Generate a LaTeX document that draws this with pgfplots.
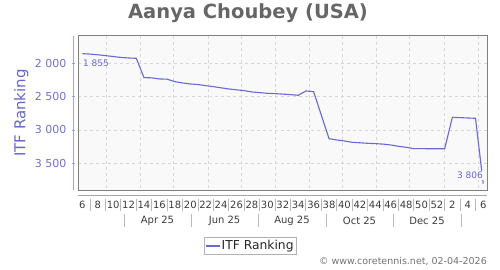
\documentclass[border=0pt]{standalone}
\usepackage{fontspec}
\setmainfont{DejaVu Sans}
\usepackage{pgfplots}
\pgfplotsset{compat=1.18}
\definecolor{linecol}{RGB}{104,104,214}
\definecolor{labcol}{RGB}{102,102,204}
\definecolor{tickcol}{RGB}{112,112,210}
\definecolor{titlecol}{RGB}{102,102,102}
\definecolor{gridcol}{RGB}{215,215,215}
\definecolor{framecol}{RGB}{128,128,128}
\definecolor{bgcol}{RGB}{249,249,249}
\definecolor{txtcol}{RGB}{60,60,60}
\definecolor{sepcol}{RGB}{185,185,185}

\pgfplotstableread{
i v
0 1855
1 1862
2 1872
3 1885
4 1898
5 1912
6 1920
7 1925
8 2215
9 2218
10 2235
11 2238
12 2275
13 2295
14 2310
15 2318
16 2335
17 2350
18 2368
19 2385
20 2398
21 2410
22 2430
23 2440
24 2450
25 2455
26 2462
27 2470
28 2480
29 2415
30 2425
32 3130
33 3150
34 3165
35 3185
36 3192
37 3200
38 3205
39 3212
40 3225
41 3245
42 3260
43 3280
44 3280
45 3282
46 3282
47 3282
48 2810
49 2815
50 2820
51 2825
52 3806
}\rankdata

\begin{document}
\begin{tikzpicture}
\useasboundingbox (0,0) rectangle (500bp,270bp);
\begin{axis}[
  at={(78bp,79.7bp)}, anchor=south west,
  scale only axis, width=409bp, height=154.6bp,
  xmin=-0.56, xmax=52.49, ymin=1586, ymax=3905, y dir=reverse,
  axis background/.style={fill=bgcol},
  axis line style={framecol, line width=0.8bp},
  xtick={0,2,...,52},
  xticklabels={6,8,10,12,14,16,18,20,22,24,26,28,30,32,34,36,38,40,42,44,46,48,50,52,2,4,6},
  xtick style={draw=none},
  xticklabel style={font=\fontsize{10bp}{12bp}\selectfont, color=txtcol, anchor=center, yshift=-14.7bp},
  extra x ticks={3.16,7.57,11.85,16.34,20.67,24.99,29.44,33.76,38.08,42.40,46.94,51.35},
  extra x tick labels={},
  extra x tick style={grid=major, tick style={draw=none}},
  ymajorgrids,
  grid style={gridcol, dashed, line width=0.6bp},
  ytick={2000,2500,3000,3500},
  yticklabels={2 000,2 500,3 000,3 500},
  ytick style={draw=none},
  yticklabel style={font=\fontsize{11bp}{13bp}\selectfont, color=tickcol, anchor=east, xshift=-8bp},
  ylabel={ITF Ranking},
  ylabel style={font=\fontsize{15bp}{18bp}\selectfont, color=labcol, at={(axis description cs:-0.139,0.5)}, anchor=center},
  legend style={at={(axis description cs:0.4205,-0.360)}, anchor=center, draw=gray!60, fill=white,
    font=\fontsize{12.3bp}{14bp}\selectfont, inner xsep=1bp, inner ysep=1.5bp,
    nodes={inner sep=1.5bp, text=black!85}},
  legend image code/.code={\draw[linecol, line width=1.3bp] (0bp,0bp) -- (14bp,0bp);},
]
\addplot[linecol, line width=1.1bp] table[x=i, y=v] {\rankdata};
\addlegendentry{ITF Ranking}
\node[anchor=west, color=linecol, font=\fontsize{9bp}{11bp}\selectfont, inner sep=0.5bp] at (axis cs:0,1855) [yshift=-10bp] {1 855};
\node[anchor=east, color=linecol, font=\fontsize{9bp}{11bp}\selectfont, fill=bgcol, inner sep=1bp] at (axis cs:52.1,3806) [yshift=8bp] {3 806};
\end{axis}
% y axis line and its small ticks
\draw[labcol!60, line width=0.8bp] (73.3bp,79.7bp) -- (73.3bp,234.3bp);
\foreach \ty in {206.7,173.3,140,106.7} {
  \draw[labcol!60, line width=0.8bp] (71.5bp,{\ty*1bp}) -- (75bp,{\ty*1bp});
}
% tick area line
\draw[gray!70, line width=0.7bp] (78bp,75bp) -- (487bp,75bp);
% week separators
\foreach \k in {1,3,...,51} {
  \draw[sepcol, line width=0.8bp] ({(82.3+7.71*\k)*1bp},71bp) -- ({(82.3+7.71*\k)*1bp},59bp);
}
% month separators
\foreach \mx in {124,191,258.3,326,393,461.7} {
  \draw[sepcol, line width=0.8bp] ({\mx*1bp},56bp) -- ({\mx*1bp},43bp);
}
\foreach \mx/\ml in {157.5/Apr 25,224.6/Jun 25,292/Aug 25,359.5/Oct 25,427/Dec 25} {
  \node[font=\fontsize{10bp}{12bp}\selectfont, color=txtcol] at ({\mx*1bp},49bp) {\ml};
}
% title
\node[font=\fontsize{19.5bp}{22bp}\selectfont\bfseries, color=titlecol] at (248bp,257bp) {Aanya Choubey (USA)};
% copyright
\node[anchor=east, font=\fontsize{9.5bp}{11bp}\selectfont, color=gray!90!black, inner sep=0pt] at (487bp,9bp) {© www.coretennis.net, 02-04-2026};
\end{tikzpicture}
\end{document}
